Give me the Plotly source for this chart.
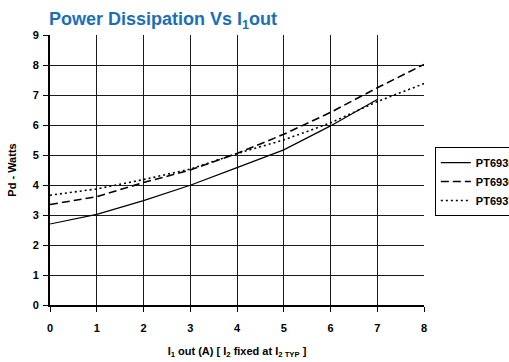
import plotly.graph_objects as go

x_all = [0, 1, 2, 3, 4, 5, 6, 7, 8]
x_6935 = [0, 1, 2, 3, 4, 5, 6, 7]
pt6935 = [2.7, 3.02, 3.48, 3.99, 4.58, 5.17, 5.97, 6.85]
pt6936 = [3.35, 3.61, 4.08, 4.5, 5.05, 5.69, 6.42, 7.24, 8.02]
pt6937 = [3.66, 3.87, 4.18, 4.53, 5.05, 5.5, 6.07, 6.78, 7.38]

x_ticks = [0, 1, 2, 3, 4, 5, 6, 7, 8]
y_ticks = [0, 1, 2, 3, 4, 5, 6, 7, 8, 9]

FONT = "Liberation Sans, Arial, sans-serif"
NARROW = "Liberation Sans Narrow, Arial Narrow, Liberation Sans, sans-serif"

fig = go.Figure()
fig.add_trace(go.Scatter(x=x_6935, y=pt6935, mode="lines", name="PT6935",
                         line=dict(color="black", width=1.2)))
fig.add_trace(go.Scatter(x=x_all, y=pt6936, mode="lines", name="PT6936",
                         line=dict(color="black", width=1.6, dash="8px,4px")))
fig.add_trace(go.Scatter(x=x_all, y=pt6937, mode="lines", name="PT6937",
                         line=dict(color="black", width=1.6, dash="2px,3px")))

axis_common = dict(
    showgrid=True, gridcolor="#1a1a1a", gridwidth=1,
    showline=True, linecolor="black", linewidth=2,
    ticks="outside", ticklen=5, tickwidth=1, tickcolor="black",
    tickfont=dict(family=FONT, size=11, color="black", weight="bold"),
    zeroline=False, fixedrange=True,
)

fig.update_layout(
    width=509, height=362,
    margin=dict(l=50, r=85, t=35, b=57, autoexpand=False),
    paper_bgcolor="white", plot_bgcolor="white",
    title=dict(text="Power Dissipation Vs I<sub>1</sub>out",
               font=dict(family=NARROW, size=18, color="#1a6fb8", weight="bold"),
               xref="container", x=49 / 509, xanchor="left",
               yref="container", y=1 - 19 / 362, yanchor="middle"),
    xaxis=dict(range=[0, 8], tickvals=x_ticks, ticklabelstandoff=7,
               title=dict(text="I<sub>1</sub> out (A) [ I<sub>2</sub> fixed at I<sub>2 TYP</sub> ]",
                          font=dict(family=FONT, size=11, color="black", weight="bold"),
                          standoff=14),
               **axis_common),
    yaxis=dict(range=[0, 9], tickvals=y_ticks, ticklabelstandoff=2,
               title=dict(text="Pd - Watts",
                          font=dict(family=FONT, size=11, color="black", weight="bold"),
                          standoff=14),
               **axis_common),
    legend=dict(x=1.029, xanchor="left", y=0.585, yanchor="top",
                bordercolor="black", borderwidth=1, bgcolor="white",
                font=dict(family=FONT, size=11, color="black", weight="bold"),
                tracegroupgap=0, itemwidth=30),
    showlegend=True,
)

fig.write_html("out.html")
